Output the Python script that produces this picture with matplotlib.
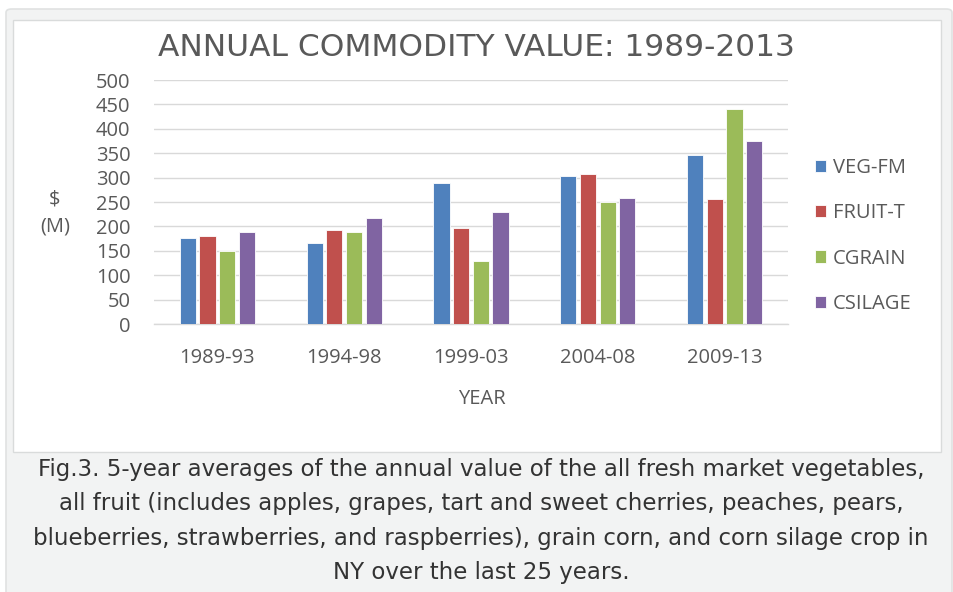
import matplotlib
matplotlib.use("Agg")
import matplotlib.pyplot as plt
import numpy as np
from matplotlib.patches import FancyBboxPatch, Rectangle

categories = ["1989-93", "1994-98", "1999-03", "2004-08", "2009-13"]
series_names = ["VEG-FM", "FRUIT-T", "CGRAIN", "CSILAGE"]
veg_fm = [176, 167, 288, 303, 346]
fruit_t = [180, 192, 197, 308, 256]
cgrain = [150, 188, 130, 250, 440]
csilage = [188, 217, 230, 259, 374]
yticks = [0, 50, 100, 150, 200, 250, 300, 350, 400, 450, 500]
colors = ["#4F81BD", "#C0504D", "#9BBB59", "#8064A2"]

title = "ANNUAL COMMODITY VALUE: 1989-2013"
caption = ("Fig.3. 5-year averages of the annual value of the all fresh market vegetables,\n"
           "all fruit (includes apples, grapes, tart and sweet cherries, peaches, pears,\n"
           "blueberries, strawberries, and raspberries), grain corn, and corn silage crop in\n"
           "NY over the last 25 years.")

W, H = 954, 592
fig = plt.figure(figsize=(W / 100, H / 100), dpi=100)
fig.patch.set_facecolor("white")

def fx(px):
    return px / W

def fy(py):
    return 1 - py / H

# outer gray box
outer = FancyBboxPatch((fx(6), fy(600)), fx(946), (600 - 9) / H,
                       boxstyle="round,pad=0,rounding_size=0.006",
                       transform=fig.transFigure, facecolor="#F2F3F3",
                       edgecolor="#E0E2E2", linewidth=1.2, zorder=0)
fig.patches.append(outer)
# inner white panel
inner = Rectangle((fx(13), fy(452)), fx(928), (452 - 20) / H,
                  transform=fig.transFigure, facecolor="white",
                  edgecolor="#D9DBDB", linewidth=1.0, zorder=1)
fig.patches.append(inner)

ax = fig.add_axes([fx(154), fy(324), fx(788 - 154), (324 - 80) / H], zorder=2)
ax.set_facecolor("none")

FS = 14.5
FONT = "Open Sans"
GRAY = "#595959"

series = [veg_fm, fruit_t, cgrain, csilage]
x = np.arange(len(categories))
pitch = 0.155
bw = 0.128
for i, (name, vals) in enumerate(zip(series_names, series)):
    off = (i - 1.5) * pitch
    ax.bar(x + off, vals, width=bw, color=colors[i], edgecolor="white",
           linewidth=0.6, label=name, zorder=3)

ax.set_xlim(-0.5, len(categories) - 0.5)
ax.set_ylim(0, 500)
ax.set_yticks(yticks)
ax.set_yticklabels([str(v) for v in yticks])
ax.set_xticks(x)
ax.set_xticklabels(categories)
ax.grid(axis="y", color="#D9D9D9", linewidth=1.0, zorder=0)
ax.set_axisbelow(True)
for s in ["top", "right", "left"]:
    ax.spines[s].set_visible(False)
ax.spines["bottom"].set_color("#D9D9D9")
ax.spines["bottom"].set_linewidth(1.0)
ax.tick_params(axis="both", length=0, colors=GRAY, labelsize=FS)
ax.tick_params(axis="x", pad=17)
ax.tick_params(axis="y", pad=17)
for lab in ax.get_xticklabels() + ax.get_yticklabels():
    lab.set_fontfamily(FONT)

fig.text(fx(482), fy(399), "YEAR", ha="center", va="center", color=GRAY,
         fontsize=FS, fontfamily=FONT)
fig.text(fx(55), fy(213), "\\$\n(M)", ha="center", va="center", color=GRAY,
         fontsize=FS, fontfamily=FONT, linespacing=1.45)

fig.text(fx(476), fy(47), title, ha="center", va="center", color=GRAY,
         fontsize=22.5, fontfamily="DejaVu Sans")

leg = ax.legend(loc="center left", bbox_to_anchor=(fx(815), fy(236)),
                bbox_transform=fig.transFigure, frameon=False,
                borderpad=0, borderaxespad=0,
                labelspacing=1.25, handlelength=0.55, handleheight=0.55,
                handletextpad=0.35, prop={"family": FONT, "size": FS})
for t in leg.get_texts():
    t.set_color(GRAY)

fig.text(fx(481), fy(521), caption, ha="center", va="center", color="#333333",
         fontsize=16.5, fontfamily="DejaVu Sans", linespacing=1.62)

fig.savefig("out.png", dpi=100)
